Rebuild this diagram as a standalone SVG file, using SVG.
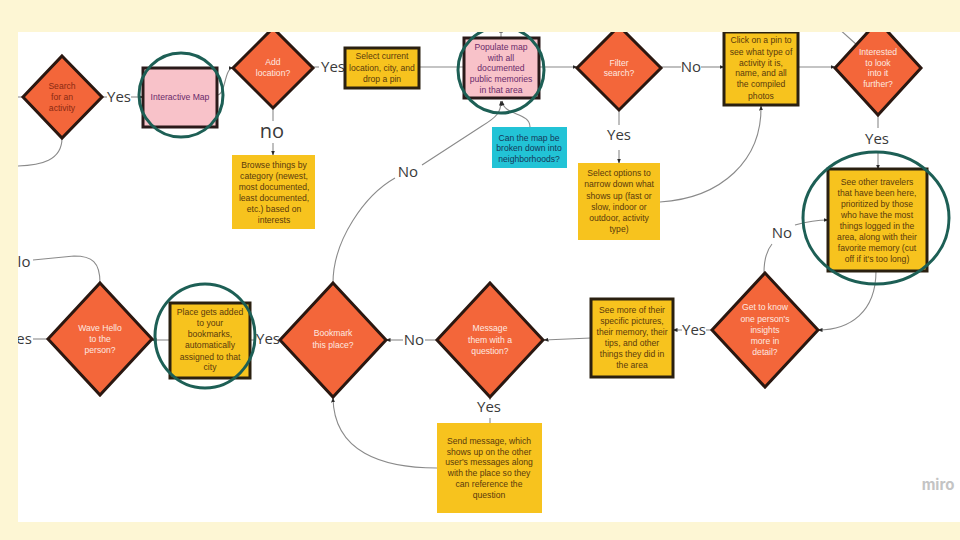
<svg xmlns="http://www.w3.org/2000/svg" width="960" height="540" viewBox="0 0 960 540">
<style>
.dia{fill:#f3663a;stroke:#2a1710;stroke-width:3;stroke-linejoin:miter}
.ybox{fill:#f7c31e;stroke:#2a2010;stroke-width:3}
.ynb{fill:#f7c31e}
.pink{fill:#f8c2c9;stroke:#2a1a1a;stroke-width:3}
.cyan{fill:#22c3d6}
.ring{fill:none;stroke:#1d5f55;stroke-width:3}
.t{font-family:"Liberation Sans",Arial,sans-serif;font-size:8.6px;text-anchor:middle}
.tw{fill:#fde8e0}
.tb{fill:#5a3a0c}
.tp{fill:#6a2a6a}
.tc{fill:#16385a}
.lbl{font-family:"Open Sans","Liberation Sans",sans-serif;font-size:15px;fill:#3a3a3a;text-anchor:middle}
.c{fill:none;stroke:#8a8a8a;stroke-width:1.1}
.ca{fill:none;stroke:#8a8a8a;stroke-width:1.1;marker-end:url(#ah)}
</style>
<defs>
<marker id="ah" viewBox="0 0 10 10" refX="9" refY="5" markerWidth="5" markerHeight="5" orient="auto" markerUnits="userSpaceOnUse">
<path d="M0,1 L10,5 L0,9 z" fill="#2a2a2a"/>
</marker>
<clipPath id="panel"><rect x="18" y="32" width="942" height="490"/></clipPath>
</defs>
<rect x="0" y="0" width="960" height="540" fill="#fdf6d4"/>
<rect x="18" y="32" width="942" height="490" fill="#ffffff"/>
<g clip-path="url(#panel)">
<g id="connectors">
<path class="c" d="M14,97 L23,97"/>
<path class="c" d="M62,138 C62,160 42,166 14,166"/>
<path class="c" d="M102,97 L107,97"/>
<path class="ca" d="M131,97 L143,97"/>
<path class="ca" d="M217,95 C226,95 224,68 233,68"/>
<path class="c" d="M313,67 L319,67"/>
<path class="c" d="M273,108 L273,121"/>
<path class="ca" d="M273,143 L273,155"/>
<path class="c" d="M419,67 L464,67"/>
<path class="ca" d="M501,38 L501,28"/>
<path class="ca" d="M539,67 L577,67"/>
<path class="ca" d="M530,127 C530,112 504,116 502,101"/>
<path class="c" d="M333,283 C333,240 365,195 395,178"/>
<path class="ca" d="M422,165 L482,126 C497,117 501,112 501,101"/>
<path class="c" d="M661,67 L681,67"/>
<path class="ca" d="M701,67 L724,67"/>
<path class="c" d="M619,110 L619,125"/>
<path class="ca" d="M619,150 L619,163"/>
<path class="ca" d="M660,202 C722,198 762,160 761,106"/>
<path class="ca" d="M798,67 L835,67"/>
<path class="c" d="M838,28 L857,45"/>
<path class="c" d="M878,115 L878,128"/>
<path class="ca" d="M878,152 L878,169"/>
<path class="c" d="M764,273 C764,260 767,250 772,244"/>
<path class="ca" d="M795,225 C806,222 815,220 828,220"/>
<path class="ca" d="M876,271 C876,312 850,330 818,330"/>
<path class="c" d="M712,330 L706,330"/>
<path class="ca" d="M682,330 L673,330"/>
<path class="ca" d="M591,338 L544,340"/>
<path class="c" d="M437,340 L425,340"/>
<path class="ca" d="M403,340 L386,340"/>
<path class="c" d="M490,397 L490,400"/>
<path class="c" d="M490,418 L490,423"/>
<path class="ca" d="M437,468 C382,468 334,452 333,398"/>
<path class="c" d="M256,340 L250,340"/>
<path class="ca" d="M170,340 L152,340"/>
<path class="c" d="M48,339 L33,339"/>
<path class="c" d="M100,283 C100,262 92,256 74,256 L33,260"/>
</g>
<g id="labels">
<text class="lbl" x="119" y="102">Yes</text>
<text class="lbl" x="333" y="72">Yes</text>
<text class="lbl" x="272" y="138" style="font-size:20px">no</text>
<text class="lbl" x="691" y="72">No</text>
<text class="lbl" x="619" y="140">Yes</text>
<text class="lbl" x="877" y="144">Yes</text>
<text class="lbl" x="408" y="177">No</text>
<text class="lbl" x="782" y="238">No</text>
<text class="lbl" x="694" y="335">Yes</text>
<text class="lbl" x="414" y="345">No</text>
<text class="lbl" x="489" y="412">Yes</text>
<text class="lbl" x="268" y="344">Yes</text>
<text class="lbl" x="24" y="344">es</text>
<text class="lbl" x="24" y="267">lo</text>
</g>
<g id="search">
<polygon class="dia" points="62,56 102,97 62,138 23,97"/>
<text class="t" x="62" y="89" fill="#8a2a12">Search</text>
<text class="t" x="62" y="100" fill="#8a2a12">for an</text>
<text class="t" x="62" y="111" fill="#8a2a12">activity</text>
</g>
<g id="interactive-map">
<rect class="pink" x="143" y="68" width="74" height="59"/>
<text class="t tp" x="180" y="100">Interactive Map</text>
<circle class="ring" cx="181" cy="95" r="42"/>
</g>
<g id="add-location">
<polygon class="dia" points="273,28 313,68 273,108 233,68"/>
<text class="t tw" x="273" y="65">Add</text>
<text class="t tw" x="273" y="76">location?</text>
</g>
<g id="select-current">
<rect class="ybox" x="345" y="48" width="74" height="40"/>
<text class="t tb" x="382" y="59">Select current</text>
<text class="t tb" x="382" y="71">location, city, and</text>
<text class="t tb" x="382" y="82">drop a pin</text>
</g>
<g id="browse">
<rect class="ynb" x="232" y="155" width="83" height="74"/>
<text class="t tb" x="274" y="168">Browse things by</text>
<text class="t tb" x="274" y="179">category (newest,</text>
<text class="t tb" x="274" y="190">most documented,</text>
<text class="t tb" x="274" y="201">least documented,</text>
<text class="t tb" x="274" y="212">etc.) based on</text>
<text class="t tb" x="274" y="223">interests</text>
</g>
<g id="populate">
<rect class="pink" x="464" y="38" width="75" height="60"/>
<text class="t tp" x="501" y="50">Populate map</text>
<text class="t tp" x="501" y="60.5">with all</text>
<text class="t tp" x="501" y="71">documented</text>
<text class="t tp" x="501" y="82">public memories</text>
<text class="t tp" x="501" y="93">in that area</text>
<circle class="ring" cx="501" cy="70" r="43"/>
</g>
<g id="neighborhoods">
<rect class="cyan" x="492" y="127" width="75" height="41"/>
<text class="t tc" x="529" y="141">Can the map be</text>
<text class="t tc" x="529" y="151">broken down into</text>
<text class="t tc" x="529" y="162">neighborhoods?</text>
</g>
<g id="filter">
<polygon class="dia" points="619,26 661,68 619,110 577,68"/>
<text class="t tw" x="619" y="66">Filter</text>
<text class="t tw" x="619" y="76">search?</text>
</g>
<g id="select-options">
<rect class="ynb" x="578" y="163" width="82" height="77"/>
<text class="t tb" x="619" y="176">Select options to</text>
<text class="t tb" x="619" y="187">narrow down what</text>
<text class="t tb" x="619" y="199">shows up (fast or</text>
<text class="t tb" x="619" y="210">slow, indoor or</text>
<text class="t tb" x="619" y="221">outdoor, activity</text>
<text class="t tb" x="619" y="232">type)</text>
</g>
<g id="click-pin">
<rect class="ybox" x="724" y="32" width="74" height="73"/>
<text class="t tb" x="761" y="43">Click on a pin to</text>
<text class="t tb" x="761" y="55">see what type of</text>
<text class="t tb" x="761" y="66">activity it is,</text>
<text class="t tb" x="761" y="76">name, and all</text>
<text class="t tb" x="761" y="87">the compiled</text>
<text class="t tb" x="761" y="99">photos</text>
</g>
<g id="interested">
<polygon class="dia" points="878,21 921,68 878,115 835,68"/>
<text class="t tw" x="878" y="55">Interested</text>
<text class="t tw" x="878" y="66">to look</text>
<text class="t tw" x="878" y="76">into it</text>
<text class="t tw" x="878" y="87">further?</text>
</g>
<g id="other-travelers">
<rect class="ybox" x="828" y="169" width="99" height="102"/>
<text class="t tb" x="877" y="185">See other travelers</text>
<text class="t tb" x="877" y="196">that have been here,</text>
<text class="t tb" x="877" y="206.5">prioritized by those</text>
<text class="t tb" x="877" y="217.5">who have the most</text>
<text class="t tb" x="877" y="228.5">things logged in the</text>
<text class="t tb" x="877" y="239.5">area, along with their</text>
<text class="t tb" x="877" y="250.5">favorite memory (cut</text>
<text class="t tb" x="877" y="261.5">off if it's too long)</text>
<ellipse class="ring" cx="876" cy="218" rx="73" ry="66"/>
</g>
<g id="get-to-know">
<polygon class="dia" points="765,273 818,330 765,387 712,330"/>
<text class="t tw" x="765" y="310">Get to know</text>
<text class="t tw" x="765" y="321.5">one person's</text>
<text class="t tw" x="765" y="333">insights</text>
<text class="t tw" x="765" y="344">more in</text>
<text class="t tw" x="765" y="355">detail?</text>
</g>
<g id="see-more">
<rect class="ybox" x="591" y="299" width="82" height="78"/>
<text class="t tb" x="632" y="313">See more of their</text>
<text class="t tb" x="632" y="324">specific pictures,</text>
<text class="t tb" x="632" y="335">their memory, their</text>
<text class="t tb" x="632" y="346">tips, and other</text>
<text class="t tb" x="632" y="357">things they did in</text>
<text class="t tb" x="632" y="368">the area</text>
</g>
<g id="message">
<polygon class="dia" points="490,283 543,340 490,397 437,340"/>
<text class="t tw" x="490" y="331">Message</text>
<text class="t tw" x="490" y="343">them with a</text>
<text class="t tw" x="490" y="354">question?</text>
</g>
<g id="send-message">
<rect class="ynb" x="437" y="423" width="105" height="90"/>
<text class="t tb" x="489" y="444">Send message, which</text>
<text class="t tb" x="489" y="454.5">shows up on the other</text>
<text class="t tb" x="489" y="465">user's messages along</text>
<text class="t tb" x="489" y="476">with the place so they</text>
<text class="t tb" x="489" y="487">can reference the</text>
<text class="t tb" x="489" y="498">question</text>
</g>
<g id="bookmark">
<polygon class="dia" points="333,283 386,340 333,397 280,340"/>
<text class="t tw" x="333" y="336">Bookmark</text>
<text class="t tw" x="333" y="348">this place?</text>
</g>
<g id="place-added">
<rect class="ybox" x="170" y="303" width="80" height="75"/>
<text class="t tb" x="210" y="315">Place gets added</text>
<text class="t tb" x="210" y="326">to your</text>
<text class="t tb" x="210" y="337">bookmarks,</text>
<text class="t tb" x="210" y="348">automatically</text>
<text class="t tb" x="210" y="360">assigned to that</text>
<text class="t tb" x="210" y="370">city</text>
<ellipse class="ring" cx="205" cy="336" rx="50" ry="52"/>
</g>
<g id="wave-hello">
<polygon class="dia" points="100,283 152,339 100,395 48,339"/>
<text class="t tw" x="100" y="331">Wave Hello</text>
<text class="t tw" x="100" y="342">to the</text>
<text class="t tw" x="100" y="353">person?</text>
</g>
<text x="938" y="490" font-family="Inter,'Liberation Sans',sans-serif" font-size="15" font-weight="bold" fill="#c4c4c4" text-anchor="middle">miro</text>
</g>
</svg>
